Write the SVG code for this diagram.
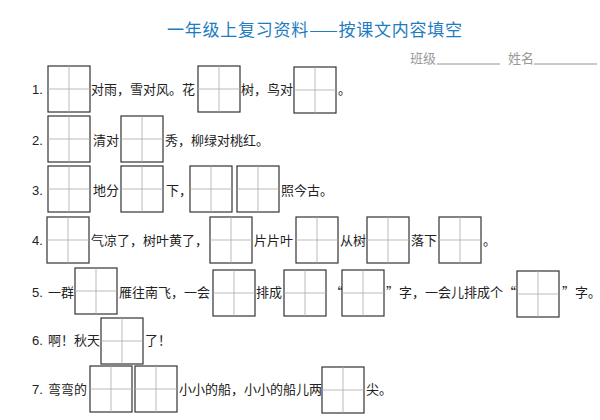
<svg xmlns="http://www.w3.org/2000/svg" xmlns:xlink="http://www.w3.org/1999/xlink" width="600" height="420" viewBox="0 0 600 420">
<style>
text{font-family:"Noto Sans CJK SC","Liberation Sans",sans-serif;font-size:13px;fill:#222}
.t{font-size:17px;fill:#1e7cc0}
.g{fill:#999}
.n{font-family:"Liberation Sans",sans-serif;font-size:13px}
.ul{stroke:#777;stroke-width:0.8}
</style>
<defs>
<g id="box">
<rect x="0" y="0" width="42" height="46" fill="#fff" stroke="#333" stroke-width="1.2"/>
<path d="M21 0V46M0 23H42" stroke="#aaa" stroke-width="0.8"/>
</g>
</defs>
<rect width="600" height="420" fill="#fff"/>
<g id="header">
<text class="t" x="167" y="36" textLength="295" lengthAdjust="spacing">一年级上复习资料——按课文内容填空</text>
<text class="g" x="410" y="63">班级</text>
<line class="ul" x1="437" y1="64" x2="500" y2="64"/>
<text class="g" x="508" y="63">姓名</text>
<line class="ul" x1="534" y1="64" x2="597" y2="64"/>
</g>
<g id="q1">
<text class="n" x="32" y="94">1.</text>
<use xlink:href="#box" x="48" y="66"/>
<text x="91" y="94">对雨，雪对风。花</text>
<use xlink:href="#box" x="198" y="66"/>
<text x="241" y="94">树，鸟对</text>
<use xlink:href="#box" x="294" y="67"/>
<text x="338" y="94">。</text>
</g>
<g id="q2">
<text class="n" x="32" y="145">2.</text>
<use xlink:href="#box" x="48" y="116"/>
<text x="93" y="145">清对</text>
<use xlink:href="#box" x="121" y="116"/>
<text x="165" y="145">秀，柳绿对桃红。</text>
</g>
<g id="q3">
<text class="n" x="32" y="195">3.</text>
<use xlink:href="#box" x="48" y="166"/>
<text x="93" y="195">地分</text>
<use xlink:href="#box" x="121" y="166"/>
<text x="166" y="195">下，</text>
<use xlink:href="#box" x="190" y="166"/>
<use xlink:href="#box" x="237" y="166"/>
<text x="281" y="195">照今古。</text>
</g>
<g id="q4">
<text class="n" x="32" y="245">4.</text>
<use xlink:href="#box" x="47" y="217"/>
<text x="91" y="245">气凉了，树叶黄了，</text>
<use xlink:href="#box" x="210" y="217"/>
<text x="254" y="245">片片叶</text>
<use xlink:href="#box" x="296" y="217"/>
<text x="340" y="245">从树</text>
<use xlink:href="#box" x="367" y="217"/>
<text x="411" y="245">落下</text>
<use xlink:href="#box" x="439" y="217"/>
<text x="483" y="245">。</text>
</g>
<g id="q5">
<text class="n" x="32" y="297">5.</text>
<text x="48" y="297">一群</text>
<use xlink:href="#box" x="75" y="268"/>
<text x="119" y="297">雁往南飞，一会</text>
<use xlink:href="#box" x="213" y="270"/>
<text x="256" y="297">排成</text>
<use xlink:href="#box" x="284" y="270"/>
<text x="330" y="297">“</text>
<use xlink:href="#box" x="342" y="270"/>
<text x="386" y="297">”字，一会儿排成个“</text>
<use xlink:href="#box" x="517" y="271"/>
<text x="562" y="297">”字。</text>
</g>
<g id="q6">
<text class="n" x="32" y="345">6.</text>
<text x="48" y="345">啊！秋天</text>
<use xlink:href="#box" x="101" y="318"/>
<text x="145" y="345">了！</text>
</g>
<g id="q7">
<text class="n" x="32" y="394">7.</text>
<text x="48" y="394">弯弯的</text>
<use xlink:href="#box" x="90" y="366"/>
<use xlink:href="#box" x="135" y="366"/>
<text x="179" y="394">小小的船，小小的船儿两</text>
<use xlink:href="#box" x="322" y="367"/>
<text x="366" y="394">尖。</text>
</g>
</svg>
